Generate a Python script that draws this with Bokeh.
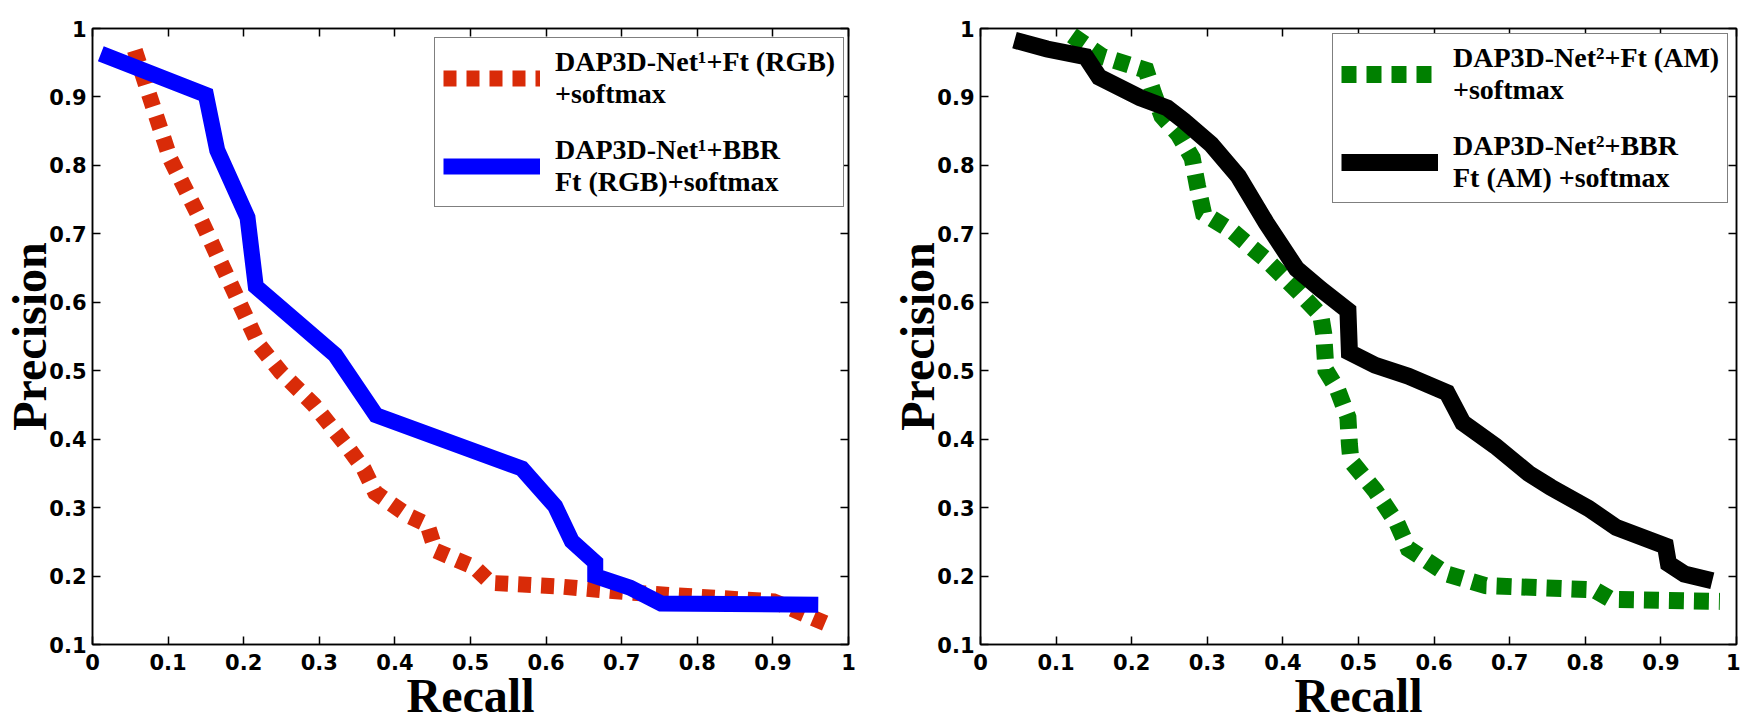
from bokeh.plotting import figure
from bokeh.models import Range1d, Legend, LegendItem, LinearAxis, FixedTicker
from bokeh.layouts import row
from bokeh.embed import file_html
from bokeh.resources import INLINE

# ---------------- data ----------------
x_ticks = [0, 0.1, 0.2, 0.3, 0.4, 0.5, 0.6, 0.7, 0.8, 0.9, 1]
y_ticks = [0.1, 0.2, 0.3, 0.4, 0.5, 0.6, 0.7, 0.8, 0.9, 1]

# left panel: DAP3D-Net^1 + Ft (RGB) + softmax  (red dashed)
rgb_ft_recall = [0.056, 0.075, 0.103, 0.143, 0.183, 0.220, 0.249, 0.293, 0.337, 0.359,
                 0.374, 0.418, 0.443, 0.454, 0.505, 0.527, 0.615, 0.711, 0.799, 0.901,
                 0.923, 0.978]
rgb_ft_precision = [0.968, 0.903, 0.809, 0.721, 0.626, 0.538, 0.498, 0.450, 0.389, 0.356,
                    0.322, 0.288, 0.275, 0.237, 0.213, 0.190, 0.185, 0.176, 0.170, 0.163,
                    0.153, 0.127]

# left panel: DAP3D-Net^1 + BBR Ft (RGB) + softmax  (blue solid)
rgb_bbr_recall = [0.011, 0.150, 0.165, 0.205, 0.216, 0.321, 0.375, 0.568, 0.612, 0.634,
                  0.665, 0.665, 0.711, 0.752, 0.960]
rgb_bbr_precision = [0.963, 0.903, 0.822, 0.724, 0.623, 0.523, 0.435, 0.357, 0.302, 0.251,
                     0.220, 0.200, 0.183, 0.160, 0.158]

# right panel: DAP3D-Net^2 + Ft (AM) + softmax  (green dashed)
am_ft_recall = [0.121, 0.161, 0.219, 0.229, 0.240, 0.262, 0.280, 0.287, 0.295, 0.334,
                0.378, 0.421, 0.450, 0.454, 0.457, 0.472, 0.486, 0.488, 0.490, 0.522,
                0.551, 0.566, 0.617, 0.668, 0.812, 0.834, 0.978]
am_ft_precision = [0.990, 0.959, 0.939, 0.905, 0.872, 0.845, 0.811, 0.770, 0.730, 0.703,
                   0.662, 0.615, 0.581, 0.554, 0.500, 0.473, 0.432, 0.392, 0.368, 0.325,
                   0.277, 0.240, 0.203, 0.186, 0.180, 0.166, 0.163]

# right panel: DAP3D-Net^2 + BBR Ft (AM) + softmax  (black solid)
am_bbr_recall = [0.045, 0.088, 0.139, 0.157, 0.211, 0.247, 0.269, 0.305, 0.341, 0.378,
                 0.418, 0.450, 0.486, 0.488, 0.522, 0.566, 0.617, 0.638, 0.681, 0.725,
                 0.754, 0.804, 0.841, 0.906, 0.910, 0.931, 0.968]
am_bbr_precision = [0.983, 0.970, 0.959, 0.929, 0.899, 0.884, 0.865, 0.831, 0.784, 0.716,
                    0.649, 0.619, 0.588, 0.527, 0.508, 0.492, 0.468, 0.424, 0.390, 0.350,
                    0.330, 0.299, 0.271, 0.244, 0.218, 0.203, 0.193]

labels_left = ["DAP3D-Net\u00b9+Ft (RGB)\n+softmax", "DAP3D-Net\u00b9+BBR\nFt (RGB)+softmax"]
labels_right = ["DAP3D-Net\u00b2+Ft (AM)\n+softmax", "DAP3D-Net\u00b2+BBR\nFt (AM) +softmax"]

TICK_FONT = "DejaVu Sans"
LABEL_FONT = "Liberation Serif"
FIG_H = 728


def style_axis(ax, ticks, show):
    ax.ticker = FixedTicker(ticks=ticks)
    ax.major_tick_in = 8
    ax.major_tick_out = 0
    ax.minor_tick_line_color = None
    ax.axis_line_width = 1.5
    ax.axis_line_color = "black"
    ax.major_tick_line_width = 1.5
    ax.major_tick_line_color = "black"
    if show:
        ax.major_label_overrides = {0: "0", 1: "1"}
        ax.major_label_text_font = TICK_FONT
        ax.major_label_text_font_style = "bold"
        ax.major_label_text_font_size = "21px"
        ax.major_label_text_color = "black"
    else:
        ax.major_label_overrides = {t: "" for t in ticks}
        ax.major_label_standoff = 0


def make_panel(width, border_left, border_right, border_top, border_bottom):
    p = figure(width=width, height=FIG_H, x_range=Range1d(0, 1), y_range=Range1d(0.1, 1),
               output_backend="svg", toolbar_location=None,
               min_border_left=border_left, min_border_right=border_right,
               min_border_top=border_top, min_border_bottom=border_bottom,
               x_axis_location=None, y_axis_location=None)
    p.grid.visible = False
    p.outline_line_color = "black"
    p.outline_line_width = 1.5
    p.background_fill_color = "white"
    p.border_fill_color = "white"

    xb = LinearAxis(axis_label="Recall")
    style_axis(xb, x_ticks, True)
    xb.major_label_standoff = 9
    xb.axis_label_text_font = LABEL_FONT
    xb.axis_label_text_font_style = "bold"
    xb.axis_label_text_font_size = "48px"
    xb.axis_label_text_color = "black"
    xb.axis_label_standoff = -4
    p.add_layout(xb, "below")

    yl = LinearAxis(axis_label="Precision")
    style_axis(yl, y_ticks, True)
    yl.major_label_standoff = 6
    yl.axis_label_text_font = LABEL_FONT
    yl.axis_label_text_font_style = "bold"
    yl.axis_label_text_font_size = "48px"
    yl.axis_label_text_color = "black"
    yl.axis_label_standoff = -10
    p.add_layout(yl, "left")

    xt = LinearAxis()
    style_axis(xt, x_ticks, False)
    p.add_layout(xt, "above")
    yr = LinearAxis()
    style_axis(yr, y_ticks, False)
    p.add_layout(yr, "right")
    return p


def add_legend(p, items, loc):
    lg = Legend(items=items, location=loc)
    lg.border_line_color = "black"
    lg.border_line_width = 1.5
    lg.background_fill_color = "white"
    lg.background_fill_alpha = 1.0
    lg.label_text_font = LABEL_FONT
    lg.label_text_font_style = "bold"
    lg.label_text_font_size = "28px"
    lg.label_text_line_height = 1.08
    lg.label_text_color = "black"
    lg.glyph_width = 97
    lg.glyph_height = 60
    lg.label_height = 60
    lg.label_standoff = 15
    lg.padding = 8
    lg.spacing = 24
    lg.margin = 0
    p.add_layout(lg)


# ---------------- left panel ----------------
p1 = make_panel(888, 88, 40, 26, FIG_H - 644)
r_red = p1.line(rgb_ft_recall, rgb_ft_precision, line_color="#d92b08", line_width=16,
                line_dash="13 10", line_cap="butt", line_join="miter")
r_blue = p1.line(rgb_bbr_recall, rgb_bbr_precision, line_color="#0000ff", line_width=16,
                 line_cap="butt", line_join="miter")
add_legend(p1, [LegendItem(label=labels_left[0], renderers=[r_red]),
                LegendItem(label=labels_left[1], renderers=[r_blue])], (342, 437))

# ---------------- right panel ----------------
p2 = make_panel(852, 81, 4, 28, FIG_H - 647)
r_green = p2.line(am_ft_recall, am_ft_precision, line_color="#008000", line_width=17,
                  line_dash="15 10", line_cap="butt", line_join="miter")
r_black = p2.line(am_bbr_recall, am_bbr_precision, line_color="#000000", line_width=17,
                  line_cap="butt", line_join="miter")
add_legend(p2, [LegendItem(label=labels_right[0], renderers=[r_green]),
                LegendItem(label=labels_right[1], renderers=[r_black])], (352, 441))

layout = row(p1, p2, spacing=0)
open("out.html", "w").write(file_html(layout, INLINE))
